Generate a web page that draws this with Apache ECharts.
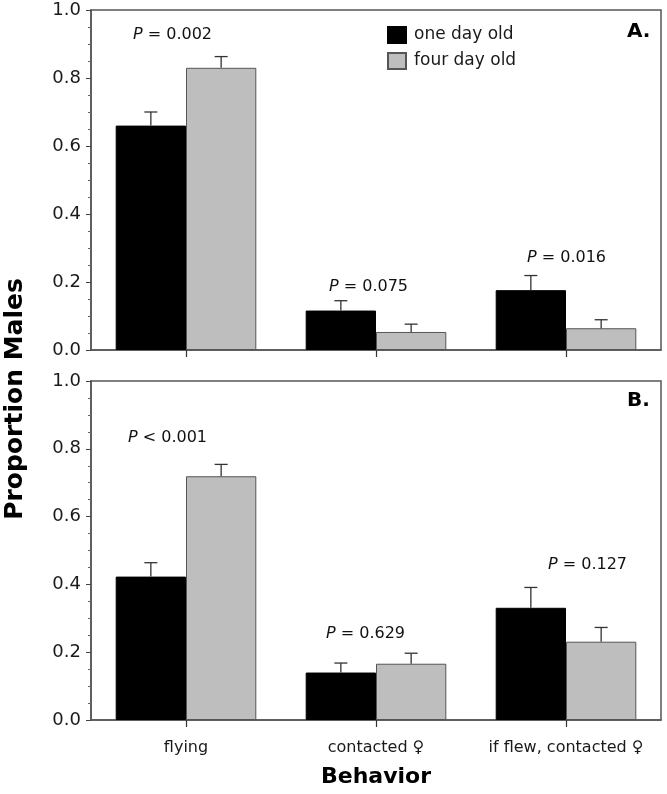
<!DOCTYPE html>
<html>
<head>
<meta charset="utf-8">
<script src="https://cdn.jsdelivr.net/npm/echarts@6/dist/echarts.min.js"></script>
<style>
  html, body { margin: 0; padding: 0; background: #fff; }
  #chart { width: 667px; height: 794px; }
</style>
</head>
<body>
<div id="chart"></div>
<script>
// ---- data ----
const categories = ['flying', 'contacted \u2640', 'if flew, contacted \u2640'];
const seriesNames = ['one day old', 'four day old'];
const yTicks = [0, 0.2, 0.4, 0.6, 0.8, 1.0];

// Panel A
const aOneDay = [0.66, 0.116, 0.176];
const aOneDayErr = [0.040, 0.029, 0.043];
const aFourDay = [0.83, 0.053, 0.064];
const aFourDayErr = [0.033, 0.023, 0.025];
const aPValues = ['= 0.002', '= 0.075', '= 0.016'];

// Panel B
const bOneDay = [0.423, 0.140, 0.331];
const bOneDayErr = [0.041, 0.028, 0.060];
const bFourDay = [0.719, 0.166, 0.231];
const bFourDayErr = [0.035, 0.031, 0.042];
const bPValues = ['< 0.001', '= 0.629', '= 0.127'];

const panelLabels = ['A.', 'B.'];

// ---- chart ----
const FONT = '"DejaVu Sans", "Liberation Sans", Arial, sans-serif';
const AXIS_COLOR = '#555';
const BAR_GAP_CAT = 0.26;

const chart = echarts.init(document.getElementById('chart'), null, { renderer: 'canvas' });

function errRender(side) {
  return function (params, api) {
    const x = api.value(0);
    const v = api.value(1);
    const e = api.value(2);
    const base = api.coord([x, v]);
    const top = api.coord([x, v + e]);
    const band = api.size([1, 0])[0];
    const bw = band * (1 - BAR_GAP_CAT) / 2;
    const cx = base[0] + side * bw / 2;
    const half = 6.5;
    const style = { stroke: '#333', lineWidth: 1.3 };
    return {
      type: 'group',
      children: [
        { type: 'line', shape: { x1: cx, y1: base[1], x2: cx, y2: top[1] }, style: style },
        { type: 'line', shape: { x1: cx - half, y1: top[1], x2: cx + half, y2: top[1] }, style: style }
      ]
    };
  };
}

function errData(vals, errs) {
  return vals.map((v, i) => [i, v, errs[i]]);
}

const grids = [
  { left: 91, top: 10, width: 570, height: 340 },
  { left: 91, top: 381, width: 570, height: 339 }
];

function xAxisFor(i, showLabels) {
  return {
    type: 'category',
    gridIndex: i,
    data: categories,
    axisLine: { show: true, lineStyle: { color: AXIS_COLOR, width: 1.5 } },
    axisTick: { show: true, alignWithLabel: true, length: 7, lineStyle: { color: '#333', width: 1.2 } },
    axisLabel: {
      show: showLabels, interval: 0, hideOverlap: false,
      fontFamily: FONT, fontSize: 16, color: '#1a1a1a', margin: 20
    },
    splitLine: { show: false },
    name: showLabels ? 'Behavior' : '',
    nameLocation: 'middle',
    nameGap: 46,
    nameTextStyle: { fontFamily: FONT, fontSize: 22, fontWeight: 'bold', color: '#000' }
  };
}

function yAxisFor(i) {
  return {
    type: 'value',
    gridIndex: i,
    min: yTicks[0],
    max: yTicks[yTicks.length - 1],
    interval: 0.2,
    axisLine: { show: true, lineStyle: { color: AXIS_COLOR, width: 1.5 } },
    axisTick: { show: true, length: 5, lineStyle: { color: '#444', width: 1 } },
    minorTick: { show: true, splitNumber: 4, length: 3, lineStyle: { color: '#666', width: 1 } },
    splitLine: { show: false },
    axisLabel: {
      fontFamily: FONT, fontSize: 18, color: '#1a1a1a', margin: 10,
      formatter: v => v.toFixed(1)
    }
  };
}

function barSeries(name, data, gi, color, border) {
  return {
    type: 'bar',
    name: name,
    xAxisIndex: gi,
    yAxisIndex: gi,
    data: data,
    barGap: '0%',
    barCategoryGap: (BAR_GAP_CAT * 100) + '%',
    itemStyle: { color: color, borderColor: border, borderWidth: 1 },
    emphasis: { disabled: true }
  };
}

function errSeries(name, vals, errs, gi, side) {
  return {
    type: 'custom',
    name: name + ' err',
    xAxisIndex: gi,
    yAxisIndex: gi,
    data: errData(vals, errs),
    renderItem: errRender(side),
    z: 5,
    silent: true
  };
}

function pText(label, x, y) {
  return {
    type: 'text',
    left: x,
    top: y,
    style: {
      text: '{i|P} ' + label,
      rich: {
        i: { fontStyle: 'italic', fontFamily: FONT, fontSize: 16, fill: '#111' }
      },
      fontFamily: FONT,
      fontSize: 16,
      fill: '#111'
    }
  };
}

const option = {
  animation: false,
  backgroundColor: '#fff',
  grid: grids.map(g => Object.assign({ show: true, borderColor: AXIS_COLOR, borderWidth: 1.5, backgroundColor: 'transparent' }, g)),
  xAxis: [xAxisFor(0, false), xAxisFor(1, true)],
  yAxis: [yAxisFor(0), yAxisFor(1)],
  legend: {
    data: seriesNames,
    left: 387,
    top: 26,
    padding: 0,
    orient: 'vertical',
    itemWidth: 18,
    itemHeight: 16,
    itemGap: 8,
    icon: 'rect',
    selectedMode: false,
    textStyle: { fontFamily: FONT, fontSize: 17, color: '#1a1a1a', padding: [0, 0, 0, 3] }
  },
  series: [
    barSeries(seriesNames[0], aOneDay, 0, '#000', '#000'),
    barSeries(seriesNames[1], aFourDay, 0, '#bebebe', '#555'),
    errSeries(seriesNames[0], aOneDay, aOneDayErr, 0, -1),
    errSeries(seriesNames[1], aFourDay, aFourDayErr, 0, 1),
    barSeries(seriesNames[0], bOneDay, 1, '#000', '#000'),
    barSeries(seriesNames[1], bFourDay, 1, '#bebebe', '#555'),
    errSeries(seriesNames[0], bOneDay, bOneDayErr, 1, -1),
    errSeries(seriesNames[1], bFourDay, bFourDayErr, 1, 1)
  ],
  graphic: [
    pText(aPValues[0], 133, 27),
    pText(aPValues[1], 329, 279),
    pText(aPValues[2], 527, 250),
    pText(bPValues[0], 128, 430),
    pText(bPValues[1], 326, 626),
    pText(bPValues[2], 548, 557),
    {
      type: 'text', left: 627, top: 22,
      style: { text: panelLabels[0], fontFamily: FONT, fontSize: 20, fontWeight: 'bold', fill: '#000' }
    },
    {
      type: 'text', left: 627, top: 391,
      style: { text: panelLabels[1], fontFamily: FONT, fontSize: 20, fontWeight: 'bold', fill: '#000' }
    },
    {
      type: 'text',
      x: 15, y: 399,
      rotation: Math.PI / 2,
      style: {
        text: 'Proportion Males',
        fontFamily: FONT, fontSize: 25, fontWeight: 'bold', fill: '#000',
        align: 'center', verticalAlign: 'middle'
      }
    }
  ]
};

chart.setOption(option);
</script>
</body>
</html>
